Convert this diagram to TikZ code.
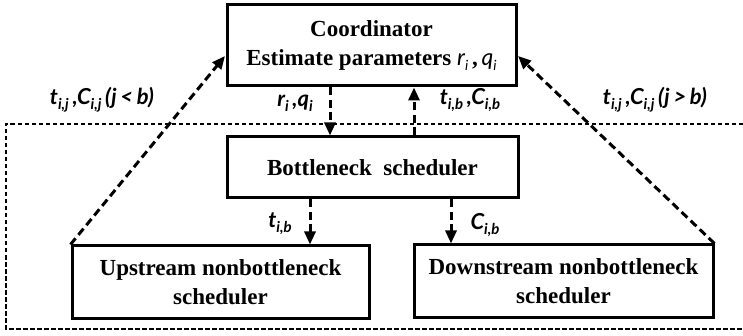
\documentclass[tikz,border=0pt]{standalone}
\usepackage{fontspec}
\setmainfont{Liberation Serif}
\newfontfamily\lblfont{Lato}
\usetikzlibrary{arrows.meta}
\newcommand{\vv}[2]{{\lblfont\bfseries\itshape #1}\raisebox{-0.45ex}{\fontsize{15}{16}\selectfont\lblfont\bfseries\itshape #2}}
\newcommand{\vm}[2]{{\fontsize{23}{29}\selectfont\lblfont\mdseries\itshape #1}\raisebox{-0.45ex}{\fontsize{14}{16}\selectfont\lblfont\mdseries\itshape #2}}
\tikzset{
  box/.style={draw, line width=3pt, align=center, font=\fontsize{23}{29}\selectfont\bfseries, inner sep=0pt},
  conn/.style={line width=3pt, dash pattern=on 8pt off 4.5pt, -{Triangle[length=13pt,width=11pt]}},
  lbl/.style={font=\fontsize{22}{24}\selectfont\lblfont\bfseries\itshape, inner sep=0pt},
  region/.style={line width=1.5pt, dash pattern=on 4.5pt off 2.5pt},
}
\begin{document}
\begin{tikzpicture}[x=1pt,y=-1pt]
\useasboundingbox (0,0) rectangle (743,336);
\draw[region] (743,124) -- (6,124) -- (6,329) -- (743,329);
\node[box, minimum width=289pt, minimum height=81pt] (coord) at (371.5,45.5) {Coordinator\\Estimate parameters \vm{r}{i}\,,\,\vm{q}{i}};
\node[box, fill=white, minimum width=291pt, minimum height=61pt] (bot) at (372.5,167.5) {Bottleneck\ \ scheduler};
\node[box, fill=white, minimum width=297pt, minimum height=72pt] (up) at (220.5,282) {Upstream nonbottleneck\\scheduler};
\node[box, fill=white, minimum width=299pt, minimum height=72pt] (down) at (563.5,281) {Downstream nonbottleneck\\scheduler};
\coordinate (cl) at (225,56);
\coordinate (cr) at (518,56);
\draw[conn] (up.north west) -- (cl);
\draw[conn] (down.north east) -- (cr);
\draw[conn] (coord.south -| 330,0) -- (bot.north -| 330,0);
\draw[conn] (bot.north -| 414,0) -- (coord.south -| 414,0);
\draw[conn] (bot.south -| 310,0) -- (up.north -| 310,0);
\draw[conn] (bot.south -| 451,0) -- (down.north -| 451,0);
\node[lbl] (l1) at (102,100) {\vv{t}{i,j}\,,\vv{C}{i,j}\,(\textit{j}\,<\,\textit{b})};
\node[lbl] (l2) at (295,103) {\vv{r}{i}\,,\vv{q}{i}};
\node[lbl] (l3) at (470,100) {\vv{t}{i,b}\,,\vv{C}{i,b}};
\node[lbl] (l4) at (655,100) {\vv{t}{i,j}\,,\vv{C}{i,j}\,(\textit{j}\,>\,\textit{b})};
\node[lbl] (l5) at (280,224) {\vv{t}{i,b}};
\node[lbl] (l6) at (485,225) {\vv{C}{i,b}};
\end{tikzpicture}
\end{document}
